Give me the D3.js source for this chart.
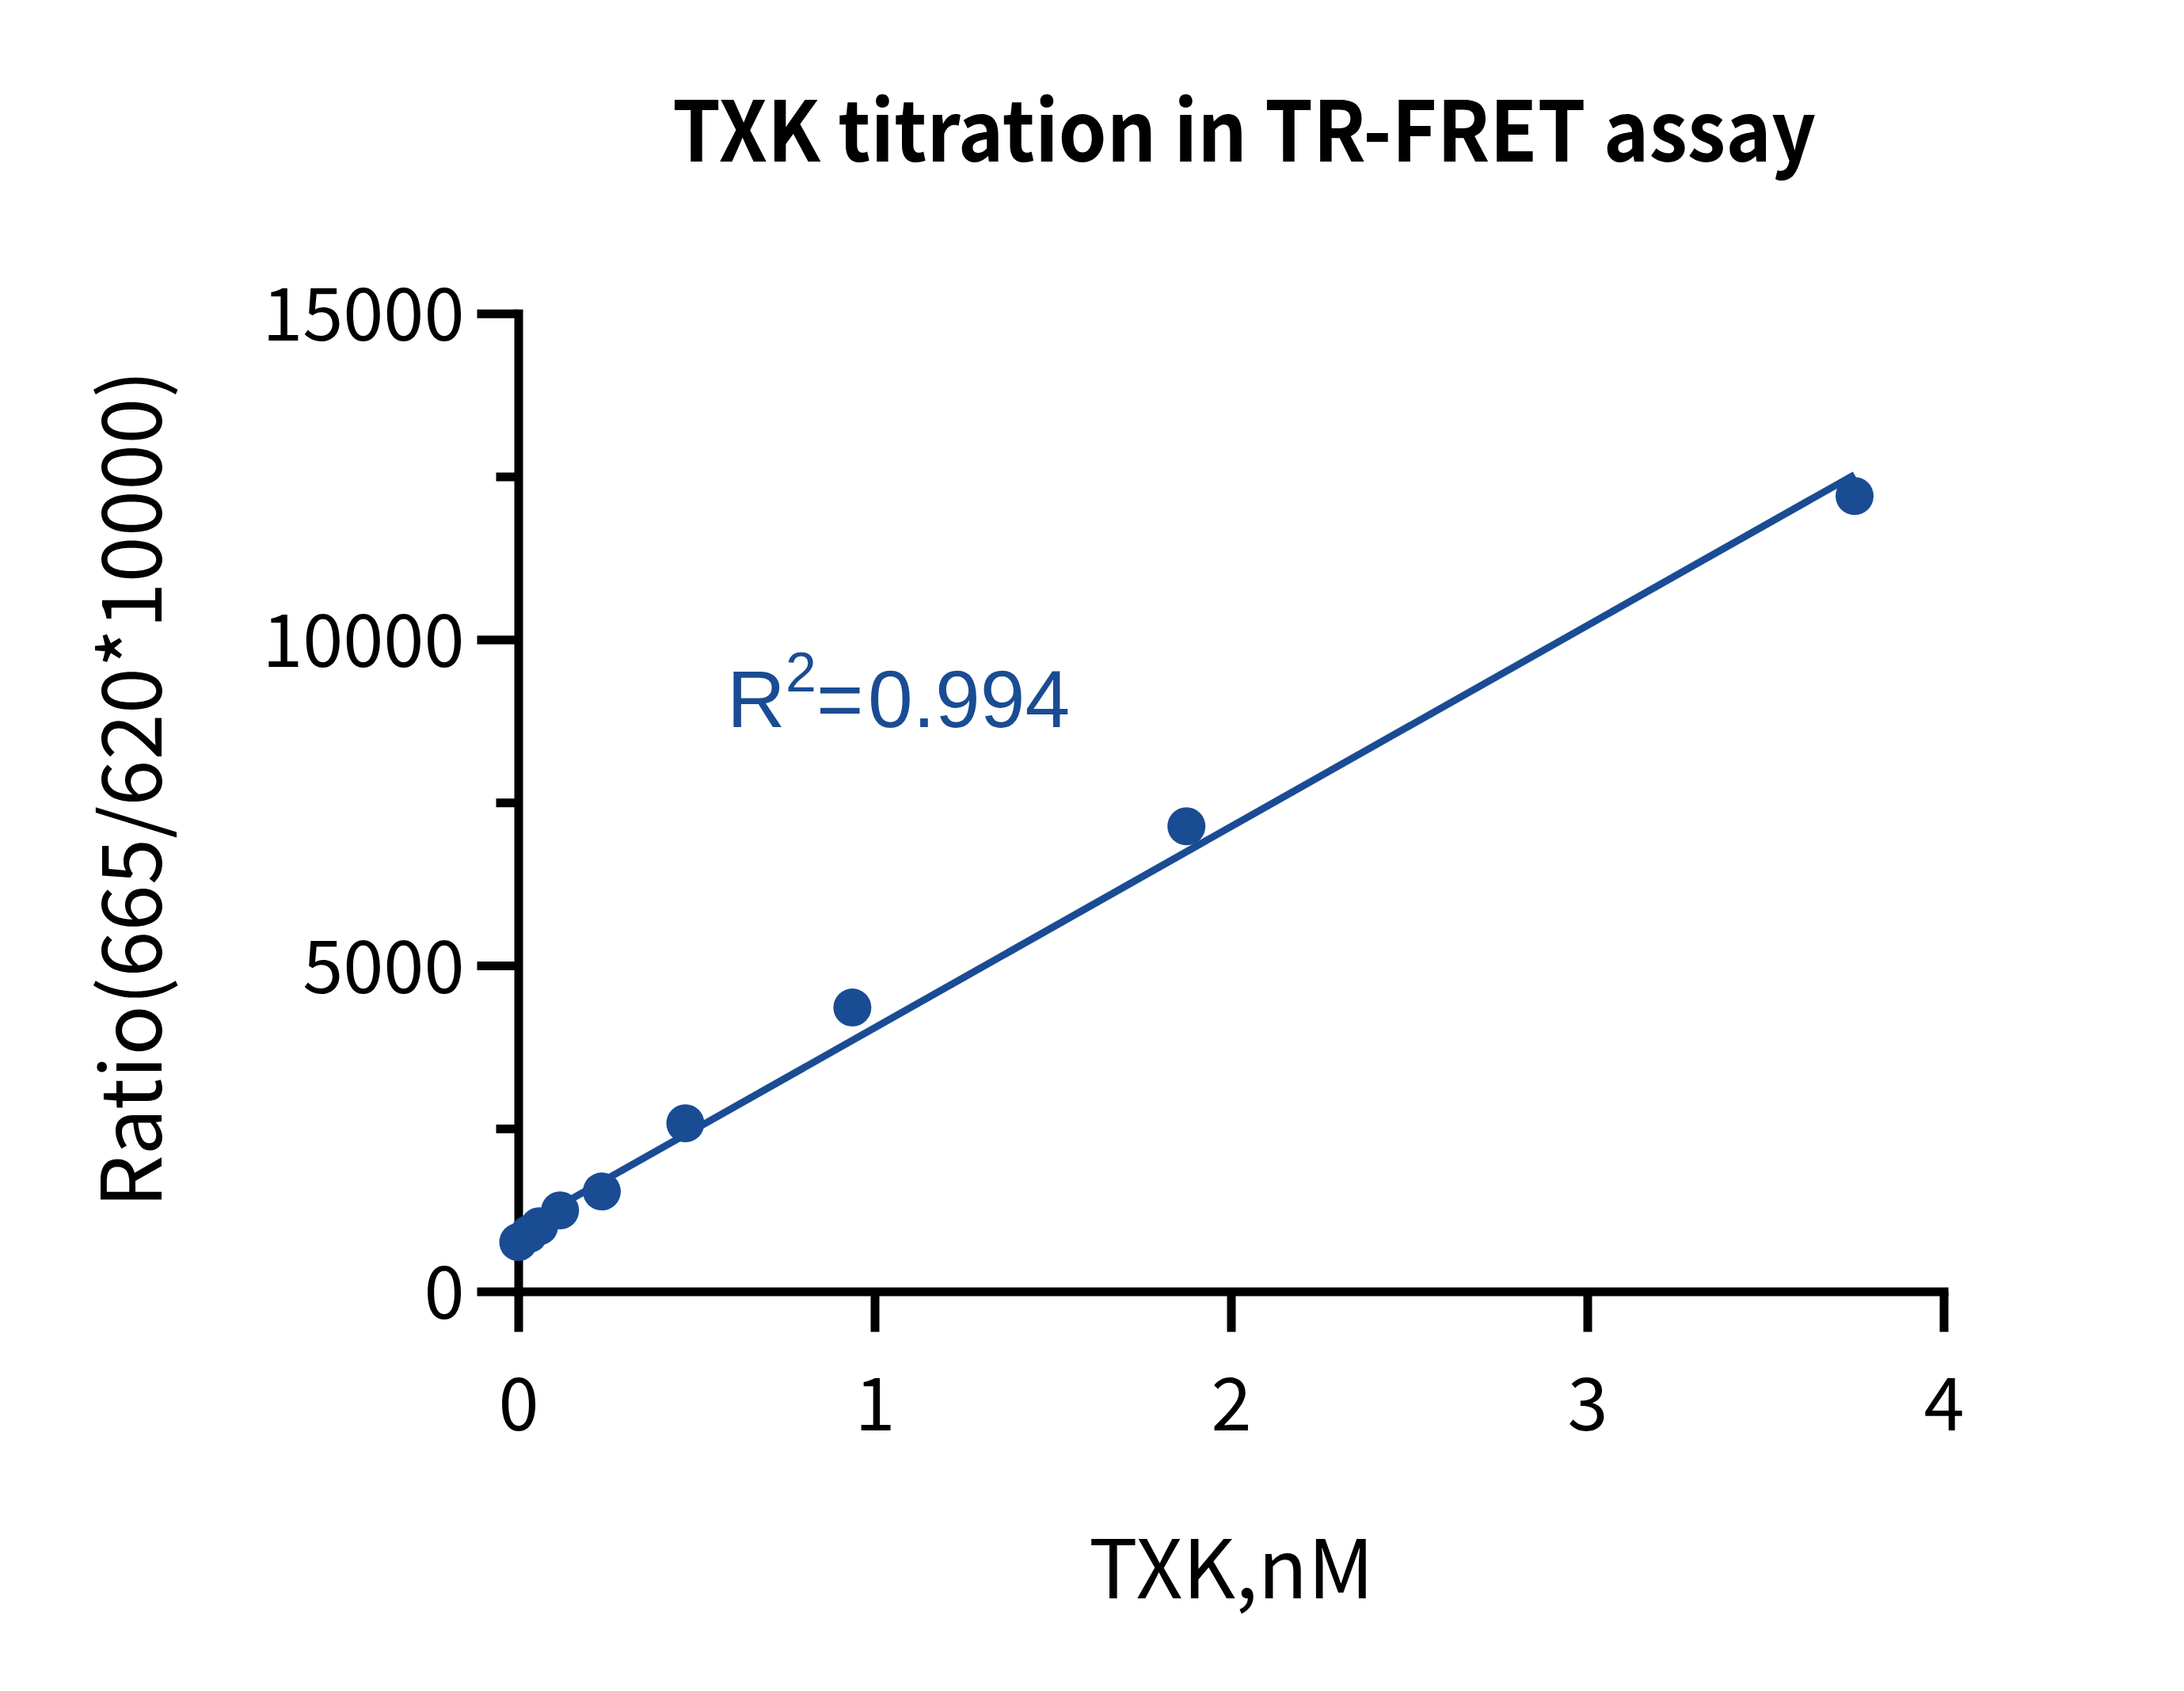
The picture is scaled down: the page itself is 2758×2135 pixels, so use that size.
<!DOCTYPE html>
<html>
<head>
<meta charset="utf-8">
<script src="https://cdn.jsdelivr.net/npm/d3@7"></script>
<style>
  html, body { margin: 0; padding: 0; background: #ffffff; }
  svg { display: block; }
</style>
</head>
<body>
<svg id="chart" width="2758" height="2135"></svg>
<script>
// ---- data ----
const concentrations = [3.75, 1.875, 0.9375, 0.46875, 0.234375, 0.1171875, 0.05859375, 0.029296875, 0];
const ratios = [12200, 7135, 4355, 2580, 1534, 1243, 1000, 880, 757];
const xTicks = [0, 1, 2, 3, 4];
const yMajorTicks = [0, 5000, 10000, 15000];
const yMinorTicks = [2500, 7500, 12500];
const titleText = "TXK titration in TR-FRET assay";
const xLabel = "TXK,nM";
const yLabel = "Ratio(665/620*10000)";
const r2Value = "0.994";

// ---- layout ----
const W = 2758, H = 2135;
const blue = "#1a4c94";
const cjk = "'Noto Sans CJK SC', 'Noto Sans', sans-serif";
const svg = d3.select("#chart");
svg.append("rect").attr("width", W).attr("height", H).attr("fill", "#fff");

const x = d3.scaleLinear().domain([0, 4]).range([654.5, 2454.5]);
const y = d3.scaleLinear().domain([0, 15000]).range([1630.6, 395.8]);

const axisW = 11;

// y axis minor ticks
const gyMinor = svg.append("g").attr("transform", `translate(${x(0)},0)`)
  .call(d3.axisLeft(y).tickValues(yMinorTicks).tickSize(28).tickSizeOuter(0).tickFormat(""));
gyMinor.select(".domain").remove();

// y axis major
const gy = svg.append("g").attr("transform", `translate(${x(0)},0)`)
  .call(d3.axisLeft(y).tickValues(yMajorTicks).tickSize(52).tickSizeOuter(0).tickPadding(16).tickFormat(d3.format("d")));

// x axis
const gx = svg.append("g").attr("transform", `translate(0,${y(0)})`)
  .call(d3.axisBottom(x).tickValues(xTicks).tickSize(51).tickSizeOuter(0).tickFormat(d3.format("d")));

[gy, gx, gyMinor].forEach(g => {
  g.selectAll(".domain").attr("stroke", "#000").attr("stroke-width", axisW).attr("stroke-linecap", "square");
  g.selectAll(".tick line").attr("stroke", "#000").attr("stroke-width", axisW);
  g.selectAll("text").attr("fill", "#000").attr("font-family", cjk).attr("font-size", 92);
});
gy.selectAll(".tick text").attr("dy", "0.37em");
gx.selectAll(".tick text").attr("y", 175).attr("dy", 0);
gy.attr("font-family", null).attr("font-size", null);
gx.attr("font-family", null).attr("font-size", null);

// regression line (least squares through the data)
const mx = d3.mean(concentrations), my = d3.mean(ratios);
const sxy = d3.sum(concentrations, (c, i) => (c - mx) * (ratios[i] - my));
const sxx = d3.sum(concentrations, c => (c - mx) * (c - mx));
const slope = sxy / sxx, intercept = my - slope * mx;
const xExt = d3.extent(concentrations);
const fit = xExt.map(c => [c, intercept + slope * c]);
svg.append("path")
  .datum(fit)
  .attr("d", d3.line().x(d => x(d[0])).y(d => y(d[1])))
  .attr("fill", "none")
  .attr("stroke", blue)
  .attr("stroke-width", 9);

// points
svg.append("g").selectAll("circle")
  .data(concentrations.map((c, i) => ({ c, v: ratios[i] })))
  .join("circle")
  .attr("cx", d => x(d.c))
  .attr("cy", d => y(d.v))
  .attr("r", 24)
  .attr("fill", blue);

// title
svg.append("text")
  .attr("x", 1571).attr("y", 204)
  .attr("text-anchor", "middle")
  .attr("font-family", cjk).attr("font-weight", "bold").attr("font-size", 105)
  .attr("textLength", 1444).attr("lengthAdjust", "spacingAndGlyphs")
  .attr("fill", "#000")
  .text(titleText);

// x label
svg.append("text")
  .attr("x", 1555).attr("y", 2018)
  .attr("text-anchor", "middle")
  .attr("font-family", cjk).attr("font-size", 103)
  .attr("fill", "#000")
  .text(xLabel);

// y label
svg.append("text")
  .attr("transform", "translate(204,996) rotate(-90)")
  .attr("text-anchor", "middle")
  .attr("font-family", cjk).attr("font-size", 105)
  .attr("fill", "#000")
  .text(yLabel);

// R^2 annotation
const r2 = svg.append("text")
  .attr("y", 918)
  .attr("font-family", "'Liberation Sans', Arial, sans-serif")
  .attr("fill", blue)
  .attr("font-size", 102);
r2.append("tspan").attr("x", 918).text("R");
r2.append("tspan").attr("x", 992).attr("y", 873).attr("font-size", 70).text("2");
r2.append("tspan").attr("x", 1031).attr("y", 918).text("=");
r2.append("tspan").attr("x", 1096).attr("y", 918).text(r2Value);
</script>
</body>
</html>
